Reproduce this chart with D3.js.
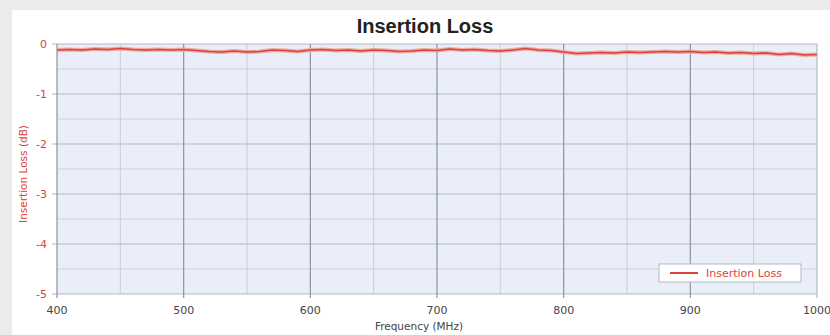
<!DOCTYPE html>
<html lang="en">
<head>
<meta charset="utf-8">
<title>Insertion Loss</title>
<script src="https://cdn.jsdelivr.net/npm/d3@7"></script>
<style>
body { margin: 0; background: #ebebeb; }
svg { display: block; font-family: "DejaVu Sans", Verdana, sans-serif; }
</style>
</head>
<body>
<script>
// frequency points (MHz) and insertion loss (dB)
var freqs = [400,410,420,430,440,450,460,470,480,490,500,510,520,530,540,550,560,570,580,590,
             600,610,620,630,640,650,660,670,680,690,700,710,720,730,740,750,760,770,780,790,
             800,810,820,830,840,850,860,870,880,890,900,910,920,930,940,950,960,970,980,990,1000];
var loss = [-0.12,-0.11,-0.12,-0.10,-0.11,-0.09,-0.11,-0.12,-0.11,-0.12,
            -0.11,-0.13,-0.15,-0.16,-0.14,-0.16,-0.15,-0.12,-0.13,-0.15,
            -0.12,-0.11,-0.13,-0.12,-0.14,-0.12,-0.13,-0.15,-0.14,-0.12,
            -0.13,-0.10,-0.12,-0.11,-0.13,-0.14,-0.12,-0.09,-0.12,-0.13,
            -0.16,-0.19,-0.18,-0.17,-0.18,-0.16,-0.17,-0.16,-0.15,-0.16,
            -0.15,-0.17,-0.16,-0.18,-0.17,-0.19,-0.18,-0.21,-0.19,-0.22,-0.21];
var xTicks = [400, 500, 600, 700, 800, 900, 1000];
var yTicks = [0, -1, -2, -3, -4, -5];

var w = 830, h = 335;
var pLeft = 57, pRight = 817, pTop = 44, pBottom = 294;
var red = "#d8453b";

var svg = d3.select("body").append("svg")
    .attr("width", w)
    .attr("height", h);

svg.append("rect").attr("x", 12).attr("y", 10).attr("width", w - 12).attr("height", h - 10)
    .attr("fill", "#ffffff");

var xScale = d3.scaleLinear().domain([400, 1000]).range([pLeft, pRight]);
var yScale = d3.scaleLinear().domain([-5, 0]).range([pBottom, pTop]);

svg.append("rect")
    .attr("x", pLeft).attr("y", pTop)
    .attr("width", pRight - pLeft).attr("height", pBottom - pTop)
    .attr("fill", "#e9eef8");

// minor grid
svg.selectAll("line.hminor")
    .data(d3.range(-4.5, 0, 1))
    .enter().append("line")
    .attr("x1", pLeft).attr("x2", pRight)
    .attr("y1", function(d) { return yScale(d); })
    .attr("y2", function(d) { return yScale(d); })
    .attr("stroke", "#cdd3de").attr("stroke-width", 1);

svg.selectAll("line.vminor")
    .data(d3.range(450, 1000, 100))
    .enter().append("line")
    .attr("y1", pTop).attr("y2", pBottom)
    .attr("x1", function(d) { return xScale(d); })
    .attr("x2", function(d) { return xScale(d); })
    .attr("stroke", "#c8ced9").attr("stroke-width", 1);

// major grid
svg.selectAll("line.hmajor")
    .data(yTicks)
    .enter().append("line")
    .attr("x1", pLeft - 5).attr("x2", pRight)
    .attr("y1", function(d) { return yScale(d); })
    .attr("y2", function(d) { return yScale(d); })
    .attr("stroke", "#b3b9c4").attr("stroke-width", 1.2);

svg.selectAll("line.vmajor")
    .data(xTicks)
    .enter().append("line")
    .attr("y1", pTop).attr("y2", pBottom + 4)
    .attr("x1", function(d) { return xScale(d); })
    .attr("x2", function(d) { return xScale(d); })
    .attr("stroke", function(d) { return d == 1000 ? "#b3b9c4" : "#8d939c"; })
    .attr("stroke-width", 1.2);

// tick labels
svg.selectAll("text.ylab")
    .data(yTicks)
    .enter().append("text")
    .attr("x", pLeft - 10)
    .attr("y", function(d) { return yScale(d) + 4; })
    .attr("text-anchor", "end")
    .attr("font-size", "11px")
    .attr("fill", red)
    .text(function(d) { return d; });

svg.selectAll("text.xlab")
    .data(xTicks)
    .enter().append("text")
    .attr("x", function(d) { return xScale(d); })
    .attr("y", pBottom + 20)
    .attr("text-anchor", "middle")
    .attr("font-size", "11px")
    .attr("fill", "#444")
    .text(function(d) { return d; });

// titles
svg.append("text")
    .attr("x", 425).attr("y", 33)
    .attr("text-anchor", "middle")
    .attr("font-family", "'Liberation Sans', Arial, sans-serif")
    .attr("font-size", "20px").attr("font-weight", "bold")
    .attr("fill", "#222")
    .text("Insertion Loss");

svg.append("text")
    .attr("x", 419).attr("y", 330)
    .attr("text-anchor", "middle")
    .attr("font-size", "10.5px")
    .attr("fill", "#444")
    .text("Frequency (MHz)");

svg.append("text")
    .attr("transform", "translate(27,174) rotate(-90)")
    .attr("text-anchor", "middle")
    .attr("font-size", "10.5px")
    .attr("fill", red)
    .text("Insertion Loss (dB)");

// data line
var pts = freqs.map(function(f, i) { return [f, loss[i]]; });
var line = d3.line()
    .x(function(d) { return xScale(d[0]); })
    .y(function(d) { return yScale(d[1]); });

svg.append("path").datum(pts)
    .attr("d", line).attr("fill", "none")
    .attr("stroke", "#f0a8a2").attr("stroke-width", 4);
svg.append("path").datum(pts)
    .attr("d", line).attr("fill", "none")
    .attr("stroke", red).attr("stroke-width", 1.6);

// legend
var lg = svg.append("g").attr("transform", "translate(659,264)");
lg.append("rect").attr("width", 142).attr("height", 18)
    .attr("fill", "#fff").attr("stroke", "#b3b9c4");
lg.append("line").attr("x1", 11).attr("x2", 39).attr("y1", 9).attr("y2", 9)
    .attr("stroke", red).attr("stroke-width", 2);
lg.append("text").attr("x", 47).attr("y", 13)
    .attr("font-size", "11px").attr("fill", red)
    .text("Insertion Loss");
</script>
</body>
</html>
